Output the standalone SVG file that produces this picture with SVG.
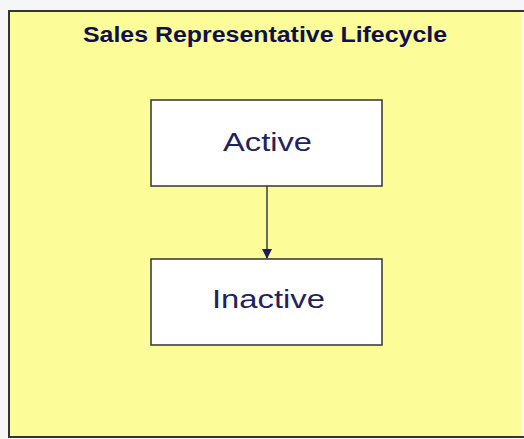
<svg xmlns="http://www.w3.org/2000/svg" width="524" height="439" viewBox="0 0 524 439">
<style>
.frame{fill:#fcfc98;}
.border{fill:none;stroke:#333333;stroke-width:2;}
.node rect{fill:#ffffff;stroke:#333333;stroke-width:1.5;}
.title{font-family:"Liberation Sans",Arial,sans-serif;font-weight:bold;font-size:22px;fill:#10104a;}
.label{font-family:"Liberation Sans",Arial,sans-serif;font-size:25px;fill:#22225e;}
.conn{stroke:#3a3a50;stroke-width:1.5;fill:none;}
</style>
<defs>
<marker id="arrow" markerWidth="10" markerHeight="10" refX="9" refY="5" orient="auto" markerUnits="userSpaceOnUse">
<path d="M0,0 L10,5 L0,10 Z" fill="#1c1c5c"/>
</marker>
</defs>
<rect x="0" y="0" width="524" height="439" fill="#f6f6f8"/>
<rect class="frame" x="9" y="11" width="512" height="426"/>
<path class="border" d="M524,11 L9,11 L9,437 L524,437"/>
<text class="title" x="265" y="42" text-anchor="middle" textLength="364" lengthAdjust="spacingAndGlyphs">Sales Representative Lifecycle</text>
<g id="connectors">
<line class="conn" x1="267" y1="186" x2="267" y2="258" marker-end="url(#arrow)"/>
</g>
<g id="node-active" class="node">
<rect x="151" y="100" width="231" height="86"/>
<text class="label" x="267.5" y="151" text-anchor="middle" textLength="89" lengthAdjust="spacingAndGlyphs">Active</text>
</g>
<g id="node-inactive" class="node">
<rect x="151" y="259" width="231" height="86"/>
<text class="label" x="268.5" y="308" text-anchor="middle" textLength="113" lengthAdjust="spacingAndGlyphs" style="font-size:26px">Inactive</text>
</g>
</svg>
